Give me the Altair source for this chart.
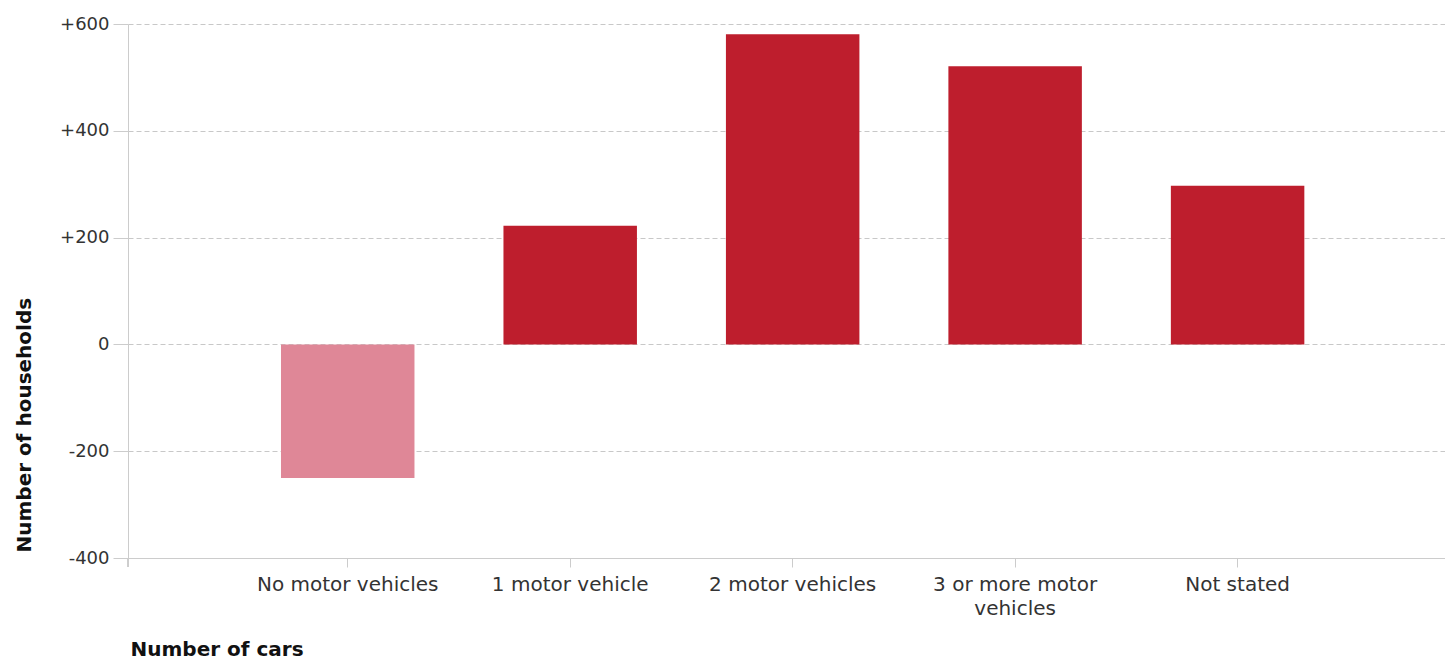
import altair as alt
import pandas as pd

categories = ["No motor vehicles", "1 motor vehicle", "2 motor vehicles",
              "3 or more motor vehicles", "Not stated"]
changes = [-250, 222, 581, 521, 297]

df = pd.DataFrame({"cat": categories, "value": changes})
df["sign"] = ["neg" if v < 0 else "pos" for v in df["value"]]

W = 1317
H = 534

bars = alt.Chart(df).mark_bar().encode(
    x=alt.X("cat:N", sort=categories,
            scale=alt.Scale(paddingInner=0.4, paddingOuter=0.66, align=0.521),
            axis=alt.Axis(title="Number of cars", labelAngle=0,
                          labelFont="DejaVu Sans", labelFontSize=20,
                          labelColor="#333333", labelPadding=7,
                          labelLineHeight=24, labelLimit=400,
                          labelExpr="datum.value == '3 or more motor vehicles' ? ['3 or more motor', 'vehicles'] : datum.label",
                          tickSize=9, tickColor="#cccccc", bandPosition=0.5,
                          domainColor="#cccccc", grid=False,
                          titleFont="DejaVu Sans", titleFontSize=20,
                          titleFontWeight="bold", titleColor="#111111",
                          titleAnchor="start", titleAlign="left",
                          titleBaseline="middle", titleX=2, titleY=91)),
    y=alt.Y("value:Q",
            scale=alt.Scale(domain=[-400, 600], nice=False),
            axis=alt.Axis(title="Number of households",
                          values=[-400, -200, 0, 200, 400, 600],
                          labelExpr="datum.value > 0 ? '+' + datum.value : '' + datum.value",
                          labelFont="DejaVu Sans", labelFontSize=18,
                          labelColor="#333333", labelPadding=4,
                          tickSize=15, tickColor="#cccccc",
                          domainColor="#cccccc",
                          gridColor="#c8c8c8", gridDash=[5, 3],
                          titleFont="DejaVu Sans", titleFontSize=20,
                          titleFontWeight="bold", titleColor="#111111",
                          titleAngle=-90, titleAlign="left",
                          titleBaseline="middle", titleX=-104, titleY=528)),
    color=alt.Color("sign:N",
                    scale=alt.Scale(domain=["neg", "pos"],
                                    range=["#df8797", "#be1e2d"]),
                    legend=None),
)

ext = alt.Chart(df).mark_rule(color="#cccccc").encode(
    x=alt.value(0), y=alt.value(H), y2=alt.value(H + 9)
)

chart = alt.layer(bars, ext).properties(
    width=W, height=H,
    padding={"left": 120, "top": 16, "right": 0, "bottom": 104},
    autosize=alt.AutoSizeParams(type="none"),
).configure_view(stroke=None).configure_axis(domainWidth=1, tickWidth=1)

chart.save("out.html", embed_options={"renderer": "svg", "actions": False})
